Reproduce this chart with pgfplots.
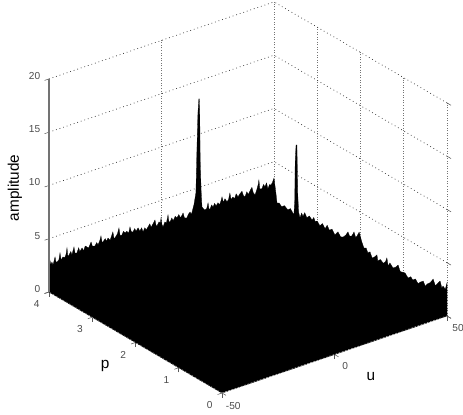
\documentclass[border=0pt]{standalone}
\usepackage{pgfplots}
\pgfplotsset{compat=1.18}
\usepackage{fontspec}
\setmainfont{Liberation Sans}
\definecolor{lab}{gray}{0.3}
\begin{document}
\begin{tikzpicture}
\path[use as bounding box] (0pt,0pt) rectangle (347.25pt,-310.5pt);
\begin{axis}[
  at={(250.875pt,-265.875pt)}, anchor=origin, disabledatascaling,
  x={(1.6875pt,0.5775pt)}, y={(-32.44pt,18.94pt)}, z={(0pt,7.99pt)},
  xmin=-50,xmax=50,ymin=0,ymax=4,zmin=0,zmax=20,
  xtick={-50,0,50}, ytick={0,1,2,3,4}, ztick={0,5,10,15,20},
  grid=major,
  x grid style={black!55,dash pattern=on 0.6pt off 1.3pt,line width=0.6pt},
  y grid style={black!55,dash pattern=on 0.6pt off 1.3pt,line width=0.6pt},
  z grid style={black!80,dash pattern=on 0.6pt off 2.2pt,line width=0.5pt},
  axis line style={draw=none},
  tick pos=left,
  tick align=outside,
  major tick length=3.5pt,
  tick style={black!65,line width=0.4pt},
  tick label style={font=\fontsize{7.6}{8}\selectfont,text=lab},
  xticklabel style={xshift=1pt},
  yticklabel style={xshift=-1.2pt,yshift=-1.2pt},
  /pgf/number format/assume math mode=true,
  clip=false,
  xlabel={u}, ylabel={p}, zlabel={amplitude},
  label style={font=\fontsize{11.5}{12}\selectfont},
  xlabel style={at={(axis cs:-0.6,-0.87,0)},anchor=center,rotate=0,sloped=false},
  ylabel style={at={(axis cs:-69.8,1.67,0)},anchor=center,rotate=0,sloped=false},
  zlabel style={at={(axis cs:-50,4.79,7.9)},anchor=center,rotate=0,sloped=false},
]
\addplot3[draw=black,fill=black,line width=0.2pt] coordinates {
(-50,4,0)(-50,4,2.55)(-49.6,4,2.98)(-49.2,4,2.5)(-48.7,4,2.72)(-48.2,4,2.4)(-47.3,4,3.09)(-46.9,4,2.6)(-46.4,4,2.56)(-45.6,4,2.7)(-45.1,4,3.31)
(-44.6,4,2.6)(-43.8,4,2.84)(-43,4,2.7)(-42.4,4,3.0)(-42,4,3.55)(-41.6,4,2.75)(-41.1,4,2.83)(-40.3,4,3.1)(-39.8,4,2.75)(-38.9,4,3.42)
(-38.4,4,2.8)(-37.6,4,2.76)(-36.8,4,3.2)(-36.3,4,2.8)(-35.3,4,3.07)(-34.6,4,2.75)(-33.9,4,3.15)(-33.1,4,3.0)(-32.4,4,2.85)(-31.3,4,3.34)
(-30.7,4,2.9)(-29.6,4,2.84)(-28.8,4,3.1)(-28.2,4,2.85)(-27.4,4,3.2)(-26.9,4,3.59)(-26.4,4,2.95)(-26,4,2.96)(-25,4,3.2)(-24.4,4,2.9)
(-23.8,4,3.17)(-22.8,4,2.9)(-22.2,4,3.25)(-21.6,4,3.58)(-21.1,4,2.95)(-20.7,4,2.95)(-19.6,4,3.25)(-18.9,4,3.76)(-18.4,4,3.0)(-17.6,4,3.0)
(-16.9,4,3.3)(-16.2,4,3.1)(-15.4,4,3.2)(-14.6,4,2.95)(-14,4,3.5)(-13.4,4,3.0)(-12.7,4,2.94)(-11.9,4,3.2)(-11.3,4,2.9)(-10.4,4,3.15)
(-9.6,4,2.8)(-8.8,4,3.05)(-8.2,4,2.61)(-7.4,4,2.95)(-6.8,4,2.7)(-6,4,2.92)(-5.2,4,3.15)(-4.6,4,2.8)(-3.8,4,3.05)(-2.9,4,3.35)
(-2.4,4,2.8)(-2,4,2.72)(-1.1,4,3.05)(-0.5,4,2.9)(-0.2,4,3.35)(0.2,4,2.7)(0.7,4,2.44)(1.5,4,2.85)(2.2,4,2.7)(2.9,4,3.41)
(3.3,4,2.75)(3.8,4,2.69)(4.6,4,3.0)(5.2,4,2.7)(6.1,4,3.05)(6.9,4,2.84)(7.7,4,3.1)(8.4,4,2.75)(9.2,4,2.95)(9.6,4,3.11)
(10.2,4,2.6)(11.3,4,2.52)(11.9,4,2.8)(12.7,4,2.98)(13.3,4,2.7)(14.4,4,3.51)(15.3,4,4.57)(15.8,4,9.0)(16.2,4,12.02)(16.6,4,13.31)
(16.8,4,13.31)(17,4,11.97)(17.2,4,7.54)(17.6,4,4.69)(18,4,3.06)(18.8,4,2.8)(19.3,4,2.69)(20.1,4,2.75)(20.7,4,3.25)(21.1,4,2.65)
(21.6,4,2.62)(22.3,4,2.95)(22.9,4,2.7)(23.6,4,3.0)(24.3,4,2.7)(25.1,4,2.95)(25.8,4,2.7)(26.5,4,3.05)(26.9,4,3.36)(27.5,4,2.8)
(28.2,4,3.1)(29.1,4,2.75)(29.8,4,2.9)(30.4,4,3.48)(30.9,4,2.85)(31.8,4,3.0)(32.5,4,2.8)(33.2,4,3.2)(34,4,2.85)(34.9,4,3.1)
(35.8,4,3.25)(36.4,4,2.8)(37.1,4,2.62)(37.9,4,3.05)(38.6,4,2.75)(39.5,4,3.1)(40.2,4,3.3)(40.8,4,2.75)(41.6,4,2.49)(42.4,4,2.95)
(43,4,3.4)(43.3,4,3.77)(43.7,4,2.9)(44.7,4,2.85)(45.3,4,3.2)(46,4,2.95)(46.7,4,3.25)(47.3,4,2.63)(48,4,3.0)(48.7,4,2.91)
(49.3,4,3.1)(50,4,3.47)
(50,3.97,2.6)(50,3.95,1.99)(50,3.93,1.29)(50,3.88,1.4)(50,3.82,1.19)(50,3.76,1.45)(50,3.68,1.24)(50,3.62,1.5)(50,3.54,1.1)(50,3.52,2.5)
(50,3.51,6.13)(50,3.49,7.77)(50,3.47,7.83)(50,3.45,3.19)(50,3.43,1.62)(50,3.4,1.15)(50,3.36,1.7)(50,3.33,1.45)(50,3.29,1.9)(50,3.24,1.55)
(50,3.18,1.85)(50,3.12,1.6)(50,3.08,1.95)(50,3.05,1.65)(50,3,1.8)(50,2.94,1.5)(50,2.88,1.85)(50,2.82,1.5)(50,2.77,1.95)(50,2.72,1.6)
(50,2.66,1.85)(50,2.59,1.46)(50,2.55,1.75)(50,2.52,1.92)(50,2.46,1.6)(50,2.4,1.72)(50,2.34,2.05)(50,2.29,2.46)(50,2.25,2.15)(50,2.2,2.3)
(50,2.15,2.79)(50,2.11,2.35)(50,2.08,2.58)(50,2.03,3.06)(50,1.97,2.29)(50,1.92,1.83)(50,1.87,1.95)(50,1.83,1.59)(50,1.78,1.8)(50,1.73,1.33)
(50,1.67,1.6)(50,1.62,1.89)(50,1.6,1.38)(50,1.54,1.65)(50,1.47,1.45)(50,1.42,1.75)(50,1.39,2.16)(50,1.36,1.46)(50,1.32,1.85)(50,1.25,1.55)
(50,1.19,1.75)(50,1.13,2.1)(50,1.08,1.6)(50,1.04,1.66)(50,0.97,1.74)(50,0.9,1.43)(50,0.84,1.7)(50,0.79,1.5)(50,0.73,1.75)(50,0.67,1.45)
(50,0.61,1.75)(50,0.55,1.97)(50,0.5,1.6)(50,0.46,1.91)(50,0.39,2.2)(50,0.32,2.7)(50,0.27,2.2)(50,0.23,2.46)(50,0.16,2.9)(50,0.12,2.35)
(50,0.09,2.6)(50,0.04,2.4)(50,0,3.1)
(50,0,0)(-50,0,0)
} -- cycle;
\addplot3[black!55,line width=1pt] coordinates {(-50,4,0)(-50,4,20)};
\addplot3[white!75!black,dash pattern=on 1.2pt off 1.3pt,line width=0.45pt] coordinates {(-50,0,0)(50,0,0)};
\addplot3[white!55!black,dash pattern=on 1.2pt off 1.6pt,line width=0.4pt] coordinates {(-50,0,0)(-50,4,0)};
\end{axis}
\end{tikzpicture}
\end{document}
